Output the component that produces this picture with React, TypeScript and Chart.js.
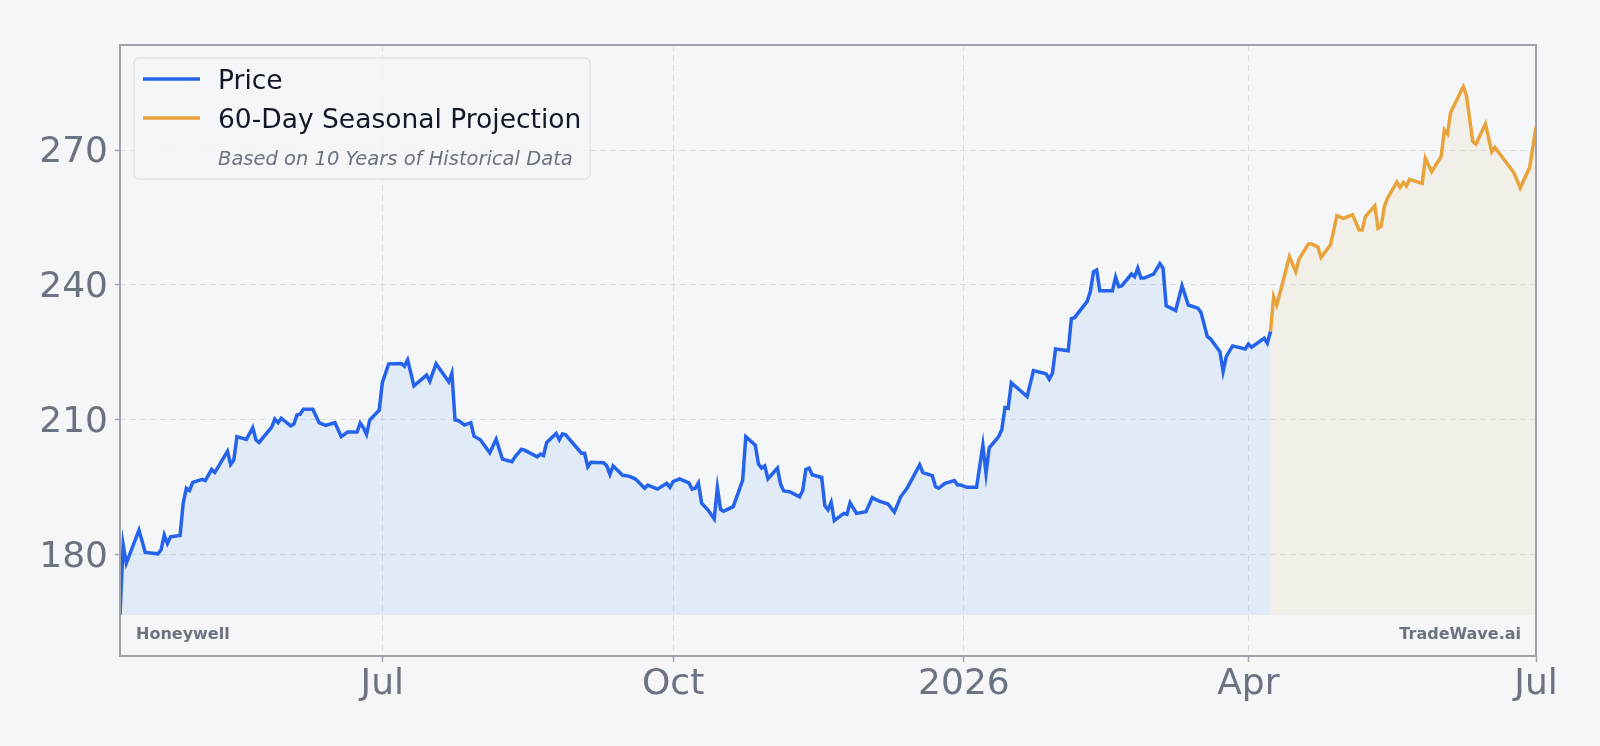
import React, { useEffect, useRef } from 'react';
import { Chart, registerables } from 'chart.js';

Chart.register(...registerables);

// x values are day numbers counted from 2025-01-01 (day 0)
const xTickDays = [181, 273, 365, 455, 546];
const xTickLabels = ['Jul', 'Oct', '2026', 'Apr', 'Jul'];
const yTicks = [180, 210, 240, 270];

const priceDays = [
  98, 99, 100, 104, 106, 110, 111, 112, 113, 114, 117, 118, 119, 120, 121, 124, 125, 127, 128, 132,
  133, 134, 135, 138, 140, 141, 142, 146, 147, 148, 149, 152, 153, 154, 155, 156, 159, 161, 163, 166,
  168, 170, 173, 174, 175, 176, 177, 180, 181, 183, 187, 188, 189, 191, 195, 196, 198, 202, 203, 204,
  205, 207, 209, 210, 212, 215, 217, 219, 222, 223, 225, 226, 230, 231, 232, 233, 236, 237, 238, 239,
  244, 245, 246, 247, 251, 252, 253, 254, 257, 259, 261, 264, 265, 268, 271, 272, 273, 275, 278, 279,
  280, 281, 282, 284, 286, 287, 288, 289, 292, 293, 295, 296, 299, 300, 301, 302, 303, 306, 307, 308,
  310, 313, 314, 315, 316, 317, 320, 321, 322, 323, 324, 327, 328, 329, 331, 334, 336, 338, 341, 343,
  345, 347, 349, 351, 352, 355, 356, 357, 359, 362, 363, 364, 366, 369, 371, 372, 373, 376, 377, 378,
  379, 380, 385, 387, 391, 392, 393, 394, 398, 399, 400, 404, 405, 406, 407, 408, 412, 413, 414, 415,
  418, 419, 420, 421, 422, 425, 427, 428, 429, 432, 434, 436, 439, 440, 442, 443, 446, 447, 448, 450,
  454, 455, 456, 460, 461, 462,
];
const priceValues = [
  166.5, 182.1, 178.0, 185.4, 180.4, 180.1, 181.0, 184.3, 182.4, 183.9, 184.2, 191.4, 194.7, 194.2, 196.0, 196.7, 196.4, 198.9, 198.2, 202.9,
  200.0, 201.0, 206.2, 205.6, 208.2, 205.5, 204.9, 208.3, 210.1, 209.3, 210.3, 208.6, 209.0, 211.0, 211.2, 212.3, 212.3, 209.3, 208.7, 209.3,
  206.2, 207.2, 207.2, 209.2, 208.2, 206.7, 209.9, 212.1, 218.2, 222.4, 222.5, 221.9, 223.3, 217.5, 219.9, 218.5, 222.4, 218.4, 220.3, 209.9,
  209.8, 208.8, 209.3, 206.3, 205.5, 202.6, 205.6, 201.2, 200.6, 201.7, 203.4, 203.2, 201.7, 202.3, 202.0, 204.9, 206.9, 205.5, 206.8, 206.6,
  202.5, 202.5, 199.5, 200.5, 200.4, 199.7, 197.8, 199.7, 197.6, 197.4, 196.8, 194.7, 195.4, 194.5, 195.8, 194.9, 196.2, 196.8, 195.9, 194.5,
  194.7, 195.9, 191.4, 189.9, 187.9, 194.8, 190.0, 189.6, 190.6, 192.5, 196.5, 206.2, 204.3, 200.1, 199.2, 199.7, 196.8, 199.2, 195.6, 194.1,
  193.9, 192.8, 194.2, 198.9, 199.2, 197.7, 197.1, 190.8, 189.9, 191.6, 187.5, 189.1, 188.9, 191.5, 189.1, 189.5, 192.6, 191.9, 191.2, 189.4,
  192.8, 194.7, 197.3, 199.9, 198.2, 197.5, 195.1, 194.7, 195.8, 196.4, 195.4, 195.4, 194.9, 194.9, 204.3, 198.0, 203.7, 206.2, 207.8, 212.7,
  212.5, 218.2, 215.1, 220.9, 220.2, 219.0, 220.3, 225.7, 225.3, 232.5, 232.7, 236.3, 238.5, 242.9, 243.3, 238.7, 238.7, 241.7, 239.6, 239.8,
  242.4, 241.8, 243.7, 241.5, 241.5, 242.4, 244.7, 243.7, 235.3, 234.3, 239.8, 235.5, 234.8, 233.9, 228.5, 228.0, 225.1, 220.7, 224.0, 226.4,
  225.7, 226.8, 226.1, 228.1, 227.0, 229.6,
];

const projectionDays = [
  462, 463, 464, 468, 470, 471, 474, 475, 477, 478, 481, 483, 485, 488, 490, 491, 492, 495, 496, 497,
  498, 499, 502, 503, 504, 505, 506, 510, 511, 513, 516, 517, 518, 519, 523, 524, 526, 527, 530, 532,
  533, 539, 541, 544, 546,
];
const projectionValues = [
  229.6, 237.4, 235.5, 246.3, 242.9, 245.7, 249.1, 249.1, 248.4, 246.1, 248.9, 255.4, 254.8, 255.6, 252.2, 252.2, 255.2, 257.6, 252.6, 253.0,
  257.4, 259.3, 262.9, 261.7, 262.8, 262.0, 263.5, 262.6, 268.2, 265.2, 268.6, 274.5, 273.6, 278.4, 284.1, 282.1, 271.9, 271.3, 275.8, 269.6,
  270.6, 265.0, 261.6, 266.1, 275.2,
];

const legendLabels = ['Price', '60-Day Seasonal Projection'];
const legendNote = 'Based on 10 Years of Historical Data';
const leftMark = 'Honeywell';
const rightMark = 'TradeWave.ai';

const FONT = "'DejaVu Sans', sans-serif";
const BG = '#f4f6f8';
const BLUE = '#2563eb';
const ORANGE = '#e8a33b';
const GRAY = '#6b7280';
const FRAME = '#9ea2ad';

const overlayPlugin = {
  id: 'overlay',
  afterDraw(chart: any) {
    const { ctx, chartArea } = chart;
    const { left, top, right, bottom } = chartArea;
    ctx.save();
    // frame
    ctx.strokeStyle = FRAME;
    ctx.lineWidth = 2;
    ctx.strokeRect(left, top, right - left, bottom - top);

    // watermarks
    ctx.fillStyle = GRAY;
    ctx.font = `bold 16px ${FONT}`;
    ctx.textBaseline = 'alphabetic';
    ctx.textAlign = 'left';
    ctx.fillText(leftMark, left + 16, bottom - 17);
    ctx.textAlign = 'right';
    ctx.fillText(rightMark, right - 15, bottom - 17);

    // legend box
    const bx = left + 14;
    const by = top + 13;
    const bw = 456;
    const bh = 121;
    ctx.beginPath();
    (ctx as any).roundRect(bx, by, bw, bh, 5);
    ctx.fillStyle = 'rgba(244,246,248,0.8)';
    ctx.fill();
    ctx.strokeStyle = '#d6dae0';
    ctx.lineWidth = 1;
    ctx.stroke();

    const colors = [BLUE, ORANGE];
    const rowsY = [top + 34, top + 73];
    ctx.textAlign = 'left';
    for (let i = 0; i < legendLabels.length; i++) {
      ctx.strokeStyle = colors[i];
      ctx.lineWidth = 3.5;
      ctx.beginPath();
      ctx.moveTo(bx + 9, rowsY[i]);
      ctx.lineTo(bx + 66, rowsY[i]);
      ctx.stroke();
      ctx.fillStyle = '#111827';
      ctx.font = `26.5px ${FONT}`;
      ctx.fillText(legendLabels[i], bx + 84, rowsY[i] + 10);
    }
    ctx.fillStyle = GRAY;
    ctx.font = `italic 19.5px ${FONT}`;
    ctx.fillText(legendNote, bx + 84, top + 120);
    ctx.restore();
  },
};

export default function App() {
  const ref = useRef<HTMLCanvasElement | null>(null);

  useEffect(() => {
    document.body.style.margin = '0';
    document.body.style.background = BG;
    const canvas = ref.current;
    if (!canvas) return;
    const baseline = Math.min(...priceValues);
    const chart = new Chart(canvas, {
      type: 'line',
      data: {
        datasets: [
          {
            label: legendLabels[0],
            data: priceDays.map((d, i) => ({ x: d, y: priceValues[i] })),
            borderColor: BLUE,
            borderWidth: 3.5,
            pointRadius: 0,
            tension: 0,
            fill: { value: baseline },
            backgroundColor: 'rgba(59,130,246,0.1)',
            order: 1,
          },
          {
            label: legendLabels[1],
            data: projectionDays.map((d, i) => ({ x: d, y: projectionValues[i] })),
            borderColor: ORANGE,
            borderWidth: 3.5,
            pointRadius: 0,
            tension: 0,
            fill: { value: baseline },
            backgroundColor: 'rgba(232,163,59,0.08)',
            order: 2,
          },
        ],
      },
      options: {
        responsive: false,
        animation: false,
        devicePixelRatio: 1,
        layout: { padding: { left: 0, top: 45, right: 64, bottom: 0 } },
        plugins: { legend: { display: false }, tooltip: { enabled: false } },
        scales: {
          x: {
            type: 'linear',
            min: 98,
            max: 546,
            afterBuildTicks: (scale: any) => {
              scale.ticks = xTickDays.map((v) => ({ value: v }));
            },
            afterFit: (scale: any) => {
              scale.height = 90;
            },
            ticks: {
              autoSkip: false,
              maxRotation: 0,
              padding: 1,
              color: GRAY,
              font: { family: FONT, size: 36 },
              callback: (v: any) => {
                const idx = xTickDays.indexOf(Number(v));
                return idx >= 0 ? xTickLabels[idx] : '';
              },
            },
            grid: {
              color: '#dadee4',
              lineWidth: 1,
              tickColor: FRAME,
              tickLength: 6,
              tickWidth: 1.5,
            },
            border: { display: false, dash: [6, 4] },
          },
          y: {
            type: 'linear',
            min: 157.35,
            max: 293.4,
            afterBuildTicks: (scale: any) => {
              scale.ticks = yTicks.map((v) => ({ value: v }));
            },
            afterFit: (scale: any) => {
              scale.width = 120;
            },
            ticks: {
              padding: 7,
              labelOffset: 3,
              color: GRAY,
              font: { family: FONT, size: 36 },
            },
            grid: {
              color: '#dadee4',
              lineWidth: 1,
              tickColor: FRAME,
              tickLength: 5,
              tickWidth: 1.5,
            },
            border: { display: false, dash: [6, 4] },
          },
        },
      },
      plugins: [overlayPlugin],
    } as any);
    return () => chart.destroy();
  }, []);

  return (
    <div style={{ position: 'fixed', left: 0, top: 0, width: 1600, height: 746, background: BG }}>
      <canvas ref={ref} width={1600} height={746} style={{ display: 'block', width: 1600, height: 746 }} />
    </div>
  );
}
